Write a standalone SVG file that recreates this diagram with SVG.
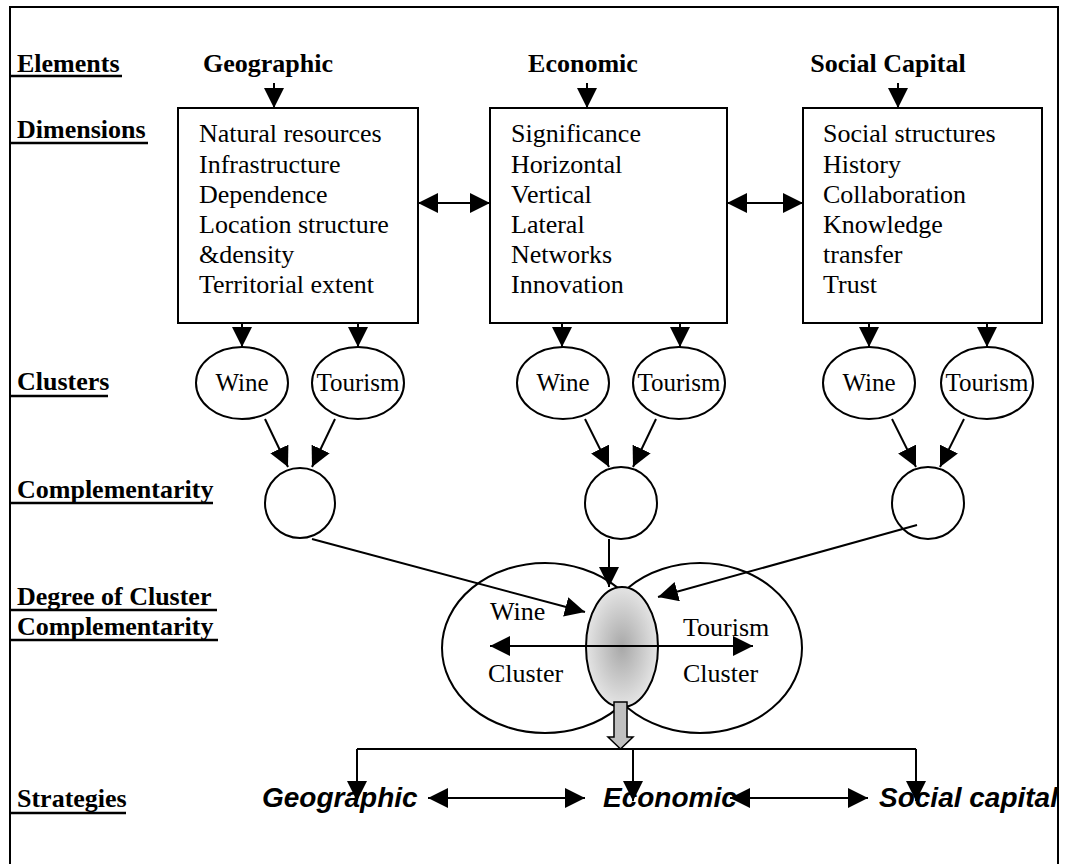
<svg xmlns="http://www.w3.org/2000/svg" width="1071" height="864" viewBox="0 0 1071 864">
<style>
.lbl{font-family:"Liberation Serif","Times New Roman",serif;font-weight:bold;font-size:26px;fill:#000}
.hdr{font-family:"Liberation Serif","Times New Roman",serif;font-weight:bold;font-size:26px;fill:#000;text-anchor:middle}
.body{font-family:"Liberation Serif","Times New Roman",serif;font-size:26px;fill:#000}
.ell{font-family:"Liberation Serif","Times New Roman",serif;font-size:25px;fill:#000;text-anchor:middle}
.strat{font-family:"Liberation Sans",Arial,sans-serif;font-weight:bold;font-style:italic;font-size:28px;fill:#000}
.shape{fill:#fff;stroke:#000;stroke-width:2}
.ul{stroke:#000;stroke-width:2.5}
.conn line,.conn path{stroke:#000;stroke-width:2;fill:none}
</style>
<defs>
<marker id="ah" viewBox="0 0 20 20" refX="20" refY="10" markerWidth="20" markerHeight="20" markerUnits="userSpaceOnUse" orient="auto-start-reverse">
<path d="M0,0 L20,10 L0,20 z" fill="#000"/>
</marker>
<radialGradient id="gg" cx="50%" cy="50%" r="50%">
<stop offset="0" stop-color="#a8a8a8"/>
<stop offset="1" stop-color="#e4e4e4"/>
</radialGradient>
</defs>
<rect width="1071" height="864" fill="#fff"/>
<rect x="10" y="7" width="1048" height="880" fill="none" stroke="#000" stroke-width="2"/>

<g id="row-labels">
<text class="lbl" x="17" y="72">Elements</text><line class="ul" x1="10" y1="76" x2="122" y2="76"/>
<text class="lbl" x="17" y="138">Dimensions</text><line class="ul" x1="10" y1="143" x2="148" y2="143"/>
<text class="lbl" x="17" y="390">Clusters</text><line class="ul" x1="10" y1="396" x2="108" y2="396"/>
<text class="lbl" x="17" y="498">Complementarity</text><line class="ul" x1="10" y1="503" x2="213" y2="503"/>
<text class="lbl" x="17" y="605">Degree of Cluster</text><line class="ul" x1="10" y1="610" x2="217" y2="610"/>
<text class="lbl" x="17" y="635">Complementarity</text><line class="ul" x1="10" y1="640" x2="218" y2="640"/>
<text class="lbl" x="17" y="807">Strategies</text><line class="ul" x1="10" y1="813" x2="126" y2="813"/>
</g>

<g id="hdr-geographic"><text class="hdr" x="268" y="72">Geographic</text></g>
<g id="hdr-economic"><text class="hdr" x="583" y="72">Economic</text></g>
<g id="hdr-social"><text class="hdr" x="888" y="72">Social Capital</text></g>

<g id="box-geographic">
<rect class="shape" x="178" y="108" width="240" height="215"/>
<text class="body" x="199" y="142">Natural resources</text>
<text class="body" x="199" y="173">Infrastructure</text>
<text class="body" x="199" y="203">Dependence</text>
<text class="body" x="199" y="233">Location structure</text>
<text class="body" x="199" y="263">&amp;density</text>
<text class="body" x="199" y="293">Territorial extent</text>
</g>
<g id="box-economic">
<rect class="shape" x="490" y="108" width="237" height="215"/>
<text class="body" x="511" y="142">Significance</text>
<text class="body" x="511" y="173">Horizontal</text>
<text class="body" x="511" y="203">Vertical</text>
<text class="body" x="511" y="233">Lateral</text>
<text class="body" x="511" y="263">Networks</text>
<text class="body" x="511" y="293">Innovation</text>
</g>
<g id="box-social">
<rect class="shape" x="803" y="108" width="239" height="215"/>
<text class="body" x="823" y="142">Social structures</text>
<text class="body" x="823" y="173">History</text>
<text class="body" x="823" y="203">Collaboration</text>
<text class="body" x="823" y="233">Knowledge</text>
<text class="body" x="823" y="263">transfer</text>
<text class="body" x="823" y="293">Trust</text>
</g>

<g id="cl-geo-wine"><ellipse class="shape" cx="242" cy="383" rx="46" ry="36"/><text class="ell" x="242" y="391">Wine</text></g>
<g id="cl-geo-tourism"><ellipse class="shape" cx="358" cy="383" rx="46" ry="36"/><text class="ell" x="358" y="391">Tourism</text></g>
<g id="cl-eco-wine"><ellipse class="shape" cx="563" cy="383" rx="46" ry="36"/><text class="ell" x="563" y="391">Wine</text></g>
<g id="cl-eco-tourism"><ellipse class="shape" cx="679" cy="383" rx="46" ry="36"/><text class="ell" x="679" y="391">Tourism</text></g>
<g id="cl-soc-wine"><ellipse class="shape" cx="869" cy="383" rx="46" ry="36"/><text class="ell" x="869" y="391">Wine</text></g>
<g id="cl-soc-tourism"><ellipse class="shape" cx="987" cy="383" rx="46" ry="36"/><text class="ell" x="987" y="391">Tourism</text></g>

<g id="comp-geo"><circle class="shape" cx="300" cy="503" r="35"/></g>
<g id="comp-eco"><circle class="shape" cx="621" cy="503" r="36"/></g>
<g id="comp-soc"><circle class="shape" cx="928" cy="503" r="36"/></g>

<g id="venn">
<ellipse cx="545" cy="648" rx="103" ry="85" fill="none" stroke="#000" stroke-width="2"/>
<ellipse cx="700" cy="648" rx="102" ry="85" fill="none" stroke="#000" stroke-width="2"/>
<ellipse cx="622" cy="647" rx="36" ry="60" fill="url(#gg)" stroke="#000" stroke-width="2"/>
<text class="body" x="490" y="620">Wine</text>
<text class="body" x="488" y="682">Cluster</text>
<text class="body" x="683" y="636">Tourism</text>
<text class="body" x="683" y="682">Cluster</text>
</g>

<g id="strat-geographic"><text class="strat" x="262" y="807">Geographic</text></g>
<g id="strat-economic"><text class="strat" x="603" y="807">Economic</text></g>
<g id="strat-social"><text class="strat" x="879" y="807">Social capital</text></g>

<g id="connectors" class="conn">
<line x1="274" y1="83" x2="274" y2="108" marker-end="url(#ah)"/>
<line x1="587" y1="83" x2="587" y2="108" marker-end="url(#ah)"/>
<line x1="898" y1="83" x2="898" y2="108" marker-end="url(#ah)"/>
<line x1="418" y1="203" x2="490" y2="203" marker-start="url(#ah)" marker-end="url(#ah)"/>
<line x1="727" y1="203" x2="803" y2="203" marker-start="url(#ah)" marker-end="url(#ah)"/>
<line x1="242" y1="323" x2="242" y2="347" marker-end="url(#ah)"/>
<line x1="358" y1="323" x2="358" y2="347" marker-end="url(#ah)"/>
<line x1="562" y1="323" x2="562" y2="347" marker-end="url(#ah)"/>
<line x1="680" y1="323" x2="680" y2="347" marker-end="url(#ah)"/>
<line x1="869" y1="323" x2="869" y2="347" marker-end="url(#ah)"/>
<line x1="987" y1="323" x2="987" y2="347" marker-end="url(#ah)"/>
<line x1="265" y1="419" x2="288" y2="467" marker-end="url(#ah)"/>
<line x1="335" y1="419" x2="312" y2="467" marker-end="url(#ah)"/>
<line x1="585" y1="419" x2="609" y2="467" marker-end="url(#ah)"/>
<line x1="656" y1="419" x2="633" y2="467" marker-end="url(#ah)"/>
<line x1="892" y1="419" x2="916" y2="467" marker-end="url(#ah)"/>
<line x1="964" y1="419" x2="940" y2="467" marker-end="url(#ah)"/>
<line x1="312" y1="539" x2="585" y2="612" marker-end="url(#ah)"/>
<line x1="609" y1="539" x2="609" y2="587" marker-end="url(#ah)"/>
<line x1="917" y1="525" x2="658" y2="597" marker-end="url(#ah)"/>
<line x1="490" y1="646" x2="753" y2="646" marker-start="url(#ah)" marker-end="url(#ah)"/>
<polygon points="614,702 627,702 627,737 633,737 620.5,749 608,737 614,737" fill="#c0c0c0" stroke="#000" stroke-width="1.5"/>
<line x1="357" y1="749" x2="916" y2="749"/>
<line x1="357" y1="749" x2="357" y2="801" marker-end="url(#ah)"/>
<line x1="633" y1="749" x2="633" y2="801" marker-end="url(#ah)"/>
<line x1="916" y1="749" x2="916" y2="801" marker-end="url(#ah)"/>
<line x1="428" y1="798" x2="585" y2="798" marker-start="url(#ah)" marker-end="url(#ah)"/>
<line x1="730" y1="798" x2="868" y2="798" marker-start="url(#ah)" marker-end="url(#ah)"/>
</g>
</svg>
